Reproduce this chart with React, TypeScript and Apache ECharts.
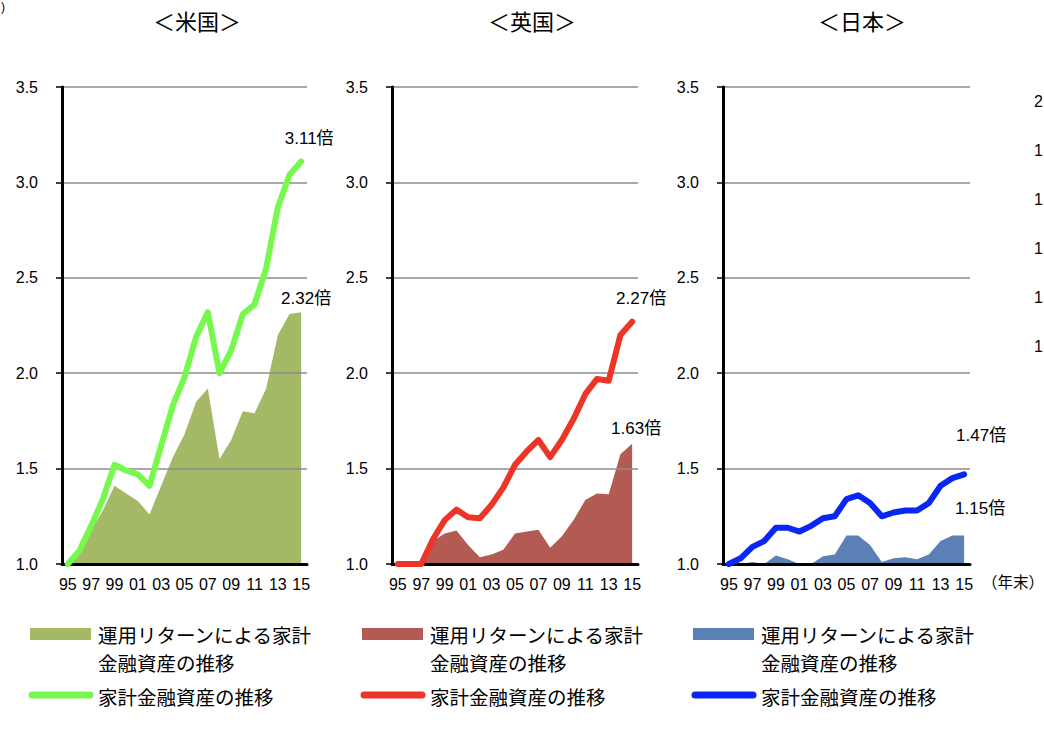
import { useEffect, useRef } from 'react'
import * as echarts from 'echarts'

// 年末（1995 = 1）
const years = ['95', '96', '97', '98', '99', '00', '01', '02', '03', '04', '05', '06', '07', '08', '09', '10', '11', '12', '13', '14', '15']

const panelTitles = ['＜米国＞', '＜英国＞', '＜日本＞']

// 家計金融資産の推移
const usTotal = [1.0, 1.07, 1.2, 1.34, 1.52, 1.49, 1.47, 1.41, 1.62, 1.83, 1.98, 2.19, 2.32, 2.0, 2.12, 2.31, 2.36, 2.55, 2.87, 3.04, 3.11]
const ukTotal = [1.0, 1.0, 1.0, 1.13, 1.23, 1.285, 1.245, 1.24, 1.31, 1.4, 1.52, 1.59, 1.65, 1.56, 1.65, 1.76, 1.89, 1.97, 1.96, 2.2, 2.27]
const jpTotal = [1.0, 1.03, 1.09, 1.12, 1.19, 1.19, 1.17, 1.2, 1.24, 1.25, 1.34, 1.36, 1.32, 1.25, 1.27, 1.28, 1.28, 1.32, 1.41, 1.45, 1.47]

// 運用リターンによる家計金融資産の推移
const usReturn = [1.0, 1.06, 1.18, 1.28, 1.41, 1.37, 1.33, 1.26, 1.41, 1.56, 1.68, 1.85, 1.92, 1.55, 1.65, 1.8, 1.79, 1.92, 2.2, 2.31, 2.32]
const ukReturn = [1.0, 1.0, 1.0, 1.12, 1.16, 1.175, 1.1, 1.035, 1.05, 1.075, 1.16, 1.17, 1.18, 1.085, 1.145, 1.23, 1.335, 1.37, 1.365, 1.575, 1.63]
const jpReturn = [1.0, 1.0, 1.01, 1.0, 1.045, 1.025, 1.0, 1.0, 1.04, 1.05, 1.15, 1.15, 1.1, 1.01, 1.03, 1.035, 1.025, 1.05, 1.12, 1.15, 1.15]

const totalLabels = ['3.11倍', '2.27倍', '1.47倍']
const returnLabels = ['2.32倍', '1.63倍', '1.15倍']

const legendArea = ['運用リターンによる家計', '金融資産の推移']
const legendLine = '家計金融資産の推移'

const NUM = '"Liberation Sans", Arial, "Noto Sans CJK JP", sans-serif'
const JP = '"Noto Sans CJK JP", "Liberation Sans", sans-serif'

const panels = [
  { left: 62, width: 245, line: '#77F84C', area: '#A4B966', lineOff: [8, -23], areaOff: [5, -14], legendX: 30 },
  { left: 392, width: 246, line: '#EC3526', area: '#B35A52', lineOff: [9, -23], areaOff: [4, -15], legendX: 362 },
  { left: 723, width: 247, line: '#0A26F2', area: '#5A80B5', lineOff: [17, -39], areaOff: [16, -27], legendX: 693 },
]
const totals = [usTotal, ukTotal, jpTotal]
const returns = [usReturn, ukReturn, jpReturn]

export default function App() {
  const elRef = useRef<HTMLDivElement>(null)

  useEffect(() => {
    if (!elRef.current) return
    const chart = echarts.init(elRef.current, null, { renderer: 'svg' })
    const last = years.length - 1

    const grid = panels.map((p) => ({ left: p.left, top: 87, width: p.width, height: 477 }))
    const xAxis = panels.map((_, i) => ({
      type: 'category',
      gridIndex: i,
      data: years,
      boundaryGap: true,
      z: 3,
      axisLine: { lineStyle: { color: '#000', width: 3 } },
      axisTick: { interval: 1, length: 5, lineStyle: { color: '#000', width: 1.5 } },
      axisLabel: { interval: 1, margin: 12, color: '#000', fontSize: 16, fontFamily: NUM },
    }))
    const yAxis = panels.map((_, i) => ({
      type: 'value',
      gridIndex: i,
      min: 1,
      max: 3.5,
      interval: 0.5,
      z: 3,
      axisLine: { show: true, lineStyle: { color: '#000', width: 3 } },
      axisTick: { show: true, length: 6, lineStyle: { color: '#000', width: 1.5 } },
      axisLabel: { margin: 24, color: '#000', fontSize: 16, fontFamily: NUM, formatter: (v: number) => v.toFixed(1) },
      splitLine: { lineStyle: { color: '#8c8c8c', width: 1.5 } },
    }))

    const series: any[] = []
    panels.forEach((p, i) => {
      series.push({
        type: 'line',
        xAxisIndex: i,
        yAxisIndex: i,
        data: returns[i],
        showSymbol: false,
        lineStyle: { width: 0 },
        itemStyle: { color: p.area },
        areaStyle: { color: p.area, opacity: 1, origin: 'start' },
        z: 2,
        markPoint: {
          symbol: 'circle',
          symbolSize: 0,
          data: [{ coord: [last, returns[i][last]] }],
          label: {
            show: true,
            position: 'inside',
            formatter: returnLabels[i],
            offset: p.areaOff,
            color: '#000',
            fontSize: 17,
            fontFamily: NUM,
          },
        },
      })
      series.push({
        type: 'line',
        xAxisIndex: i,
        yAxisIndex: i,
        data: totals[i],
        showSymbol: false,
        lineStyle: { width: 6, color: p.line, cap: 'round', join: 'round' },
        itemStyle: { color: p.line },
        z: 4,
        markPoint: {
          symbol: 'circle',
          symbolSize: 0,
          data: [{ coord: [last, totals[i][last]] }],
          label: {
            show: true,
            position: 'inside',
            formatter: totalLabels[i],
            offset: p.lineOff,
            color: '#000',
            fontSize: 17,
            fontFamily: NUM,
          },
        },
      })
    })

    const titleCenters = [197, 532, 862]
    const graphic: any[] = []
    panelTitles.forEach((t, i) => {
      graphic.push({
        type: 'text',
        x: titleCenters[i],
        y: 20,
        style: { text: t, fill: '#000', font: `22px ${JP}`, textAlign: 'center', textVerticalAlign: 'middle' },
      })
    })
    panels.forEach((p) => {
      const x = p.legendX
      graphic.push({ type: 'rect', shape: { x, y: 628, width: 61, height: 12 }, style: { fill: p.area } })
      graphic.push({
        type: 'line',
        shape: { x1: x + 2, y1: 695, x2: x + 60, y2: 695 },
        style: { stroke: p.line, lineWidth: 7, lineCap: 'round' },
      })
      legendArea.forEach((s, k) => {
        graphic.push({
          type: 'text',
          x: x + 68,
          y: 634 + k * 28,
          style: { text: s, fill: '#000', font: `19.5px ${JP}`, textVerticalAlign: 'middle' },
        })
      })
      graphic.push({
        type: 'text',
        x: x + 68,
        y: 696,
        style: { text: legendLine, fill: '#000', font: `19.5px ${JP}`, textVerticalAlign: 'middle' },
      })
    })
    graphic.push({
      type: 'text',
      x: 982,
      y: 581,
      style: { text: '（年末）', fill: '#000', font: `15.5px ${JP}`, textVerticalAlign: 'middle' },
    })
    graphic.push({
      type: 'text',
      x: 1,
      y: 7,
      style: { text: ')', fill: '#000', font: `12px ${NUM}`, textVerticalAlign: 'middle' },
    })
    // 右隣の図の目盛（画面端で切れている）
    const cutTicks = ['2', '1', '1', '1', '1', '1']
    const cutY = [101, 150, 199, 248, 297, 346]
    cutTicks.forEach((s, k) => {
      graphic.push({
        type: 'text',
        x: 1034,
        y: cutY[k],
        style: { text: s, fill: '#000', font: `16px ${NUM}`, textVerticalAlign: 'middle' },
      })
    })

    chart.setOption({
      animation: false,
      backgroundColor: '#fff',
      grid,
      xAxis,
      yAxis,
      series,
      graphic,
    })
    return () => chart.dispose()
  }, [])

  return <div ref={elRef} style={{ position: 'absolute', left: 0, top: 0, width: 1044, height: 732 }} />
}
